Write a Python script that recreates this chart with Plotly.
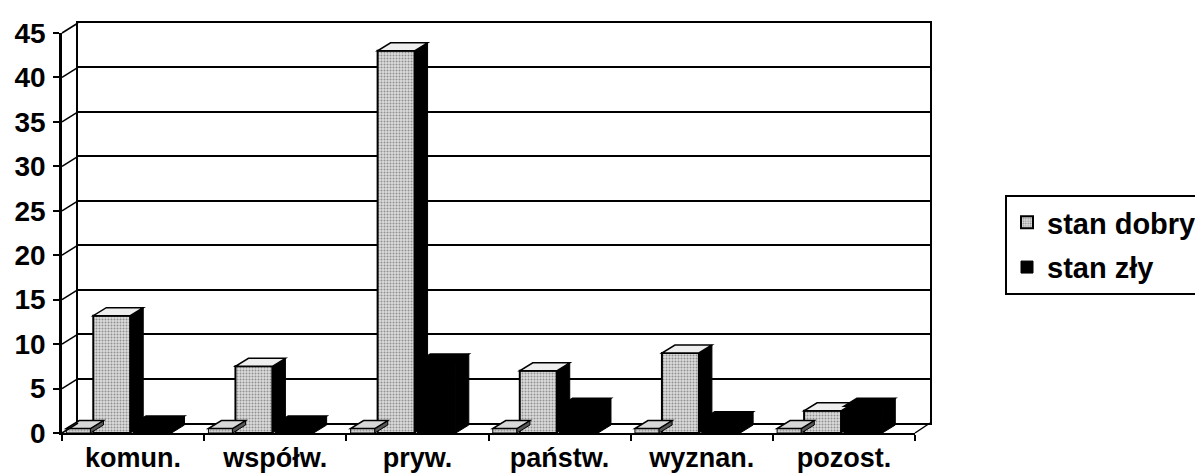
import plotly.graph_objects as go

categories = ["komun.", "współw.", "pryw.", "państw.", "wyznan.", "pozost."]
stan_dobry = [13.2, 7.5, 43, 7.0, 9.0, 2.5]
stan_zly = [1.0, 1.0, 8.0, 3.0, 1.5, 3.0]
stan_inny = [0, 0, 0, 0, 0, 0]
y_ticks = [0, 5, 10, 15, 20, 25, 30, 35, 40, 45]

FONT = "Liberation Sans, Arial, sans-serif"
SLAB = 0.5  # visual thickness of zero-height floor slabs

# geometry (pixels) of the pseudo-3D frame
W, H = 1203, 473
ML, MR, MT, MB = 54, 281, 15, 48
PW, PH = W - ML - MR, H - MT - MB
DX, DY = 16, 10          # depth offset of back wall
FRONT_X = [0, (PW - 15) / PW]
BACK_X = [DX / PW, 1]
FRONT_Y = [0, (PH - DY) / PH]
BACK_Y = [DY / PH, 1]
YMAX = 45
NCAT = len(categories)
FRONT_PW = PW * (FRONT_X[1] - FRONT_X[0])
FRONT_PH = PH * (FRONT_Y[1] - FRONT_Y[0])
DXU = 13 / (FRONT_PW / NCAT)     # bar depth in category units
DYU = 8 / (FRONT_PH / YMAX)      # bar depth in value units

fig = go.Figure()

# invisible anchor trace for the back-wall subplot
fig.add_trace(go.Scatter(x=[0], y=[0], xaxis="x", yaxis="y", mode="markers",
                         marker=dict(opacity=0), showlegend=False, hoverinfo="skip"))

series = [
    dict(vals=[v + SLAB for v in stan_inny], off=-0.47, wid=0.17, name=None,
         face=dict(color="#c8c8c8", line=dict(color="black", width=1),
                   pattern=dict(shape=".", fgcolor="#666", bgcolor="#d6d6d6", size=3, solidity=0.3)),
         top="#d8d8d8", side="#555555"),
    dict(vals=stan_dobry, off=-0.28, wid=0.26, name="stan dobry",
         face=dict(color="#d0d0d0", line=dict(color="black", width=2),
                   pattern=dict(shape=".", fgcolor="#444", bgcolor="#dcdcdc", size=3, solidity=0.35)),
         top="#eeeeee", side="black"),
    dict(vals=stan_zly, off=0.0, wid=0.27, name="stan zły",
         face=dict(color="black", line=dict(color="black", width=1)),
         top="black", side="black"),
]

shapes = []
for k, s in enumerate(series):
    fig.add_trace(go.Bar(
        name=s["name"] or "", x=categories, y=s["vals"], offset=s["off"], width=s["wid"],
        xaxis="x2", yaxis="y2", marker=s["face"], legendgroup=str(k),
        showlegend=s["name"] is not None, hoverinfo="skip" if s["name"] is None else None))
    for i, v in enumerate(s["vals"]):
        xl = i + s["off"]
        xr = xl + s["wid"]
        # side face
        shapes.append(dict(type="path", xref="x2", yref="y2", layer="above",
                           path=f"M{xr},0 L{xr},{v} L{xr+DXU},{v+DYU} L{xr+DXU},{DYU} Z",
                           fillcolor=s["side"], line=dict(color="black", width=1)))
        # top face
        shapes.append(dict(type="path", xref="x2", yref="y2", layer="above",
                           path=f"M{xl},{v} L{xr},{v} L{xr+DXU},{v+DYU} L{xl+DXU},{v+DYU} Z",
                           fillcolor=s["top"], line=dict(color="black", width=1.5)))

# connectors from front ticks to back wall
for v in y_ticks:
    fy = FRONT_Y[0] + v / YMAX * (FRONT_Y[1] - FRONT_Y[0])
    by = BACK_Y[0] + v / YMAX * (BACK_Y[1] - BACK_Y[0])
    shapes.append(dict(type="line", xref="paper", yref="paper",
                       x0=FRONT_X[0], y0=fy, x1=BACK_X[0], y1=by,
                       line=dict(color="black", width=1.5)))
shapes.append(dict(type="line", xref="paper", yref="paper",
                   x0=FRONT_X[1], y0=FRONT_Y[0], x1=BACK_X[1], y1=BACK_Y[0],
                   line=dict(color="black", width=1.5)))

tick_font = dict(family=FONT, size=28, color="black", weight="bold")

fig.update_layout(
    width=W, height=H,
    barmode="overlay",
    paper_bgcolor="white", plot_bgcolor="rgba(0,0,0,0)",
    margin=dict(l=ML, r=MR, t=MT, b=MB, autoexpand=False),
    font=dict(family=FONT, color="black", size=20),
    shapes=shapes,
    legend=dict(x=(997 - ML) / PW, y=(H - MB - 187) / PH, xanchor="left", yanchor="top",
                bordercolor="black", borderwidth=2, bgcolor="white",
                font=dict(family=FONT, size=29, color="black", weight="bold"),
                traceorder="grouped", tracegroupgap=4, itemwidth=30),
    # back wall
    xaxis=dict(domain=BACK_X, anchor="y", range=[0, 1], showline=True, mirror=True,
               linecolor="black", linewidth=1.5, showgrid=False, showticklabels=False,
               ticks="", zeroline=False, fixedrange=True),
    yaxis=dict(domain=BACK_Y, anchor="x", range=[0, YMAX], tickvals=y_ticks,
               showline=True, mirror=True, linecolor="black", linewidth=1.5,
               showgrid=True, gridcolor="black", gridwidth=1.5, showticklabels=False,
               ticks="", zeroline=False, fixedrange=True),
    # front plane
    xaxis2=dict(domain=FRONT_X, anchor="y2", type="category", categoryorder="array",
                categoryarray=categories, range=[-0.5, NCAT - 0.5], showline=True,
                linecolor="black", linewidth=2, ticks="outside", tickson="boundaries",
                ticklen=6, tickwidth=1.5, tickcolor="black", showgrid=False,
                tickfont=dict(family=FONT, size=27, color="black", weight="bold"),
                automargin=False),
    yaxis2=dict(domain=FRONT_Y, anchor="x2", range=[0, YMAX], tickvals=y_ticks,
                showline=True, linecolor="black", linewidth=2.5, ticks="outside",
                ticklen=6, tickwidth=1.5, tickcolor="black", showgrid=False,
                zeroline=False, tickfont=tick_font, automargin=False, ticklabelstandoff=2),
)

fig.write_html("out.html")
